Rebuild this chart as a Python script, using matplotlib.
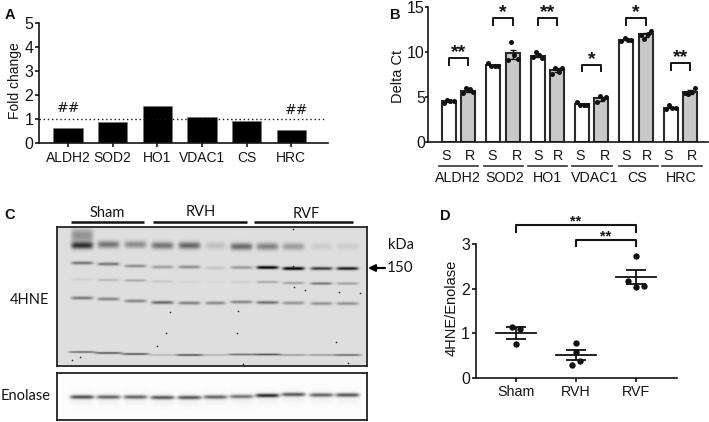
import numpy as np
import matplotlib
matplotlib.use("Agg")
import matplotlib.pyplot as plt

plt.rcParams['font.family'] = ['Liberation Sans', 'DejaVu Sans']

W, H = 709, 422
INK = "#141414"

# panel A
genes = ["ALDH2", "SOD2", "HO1", "VDAC1", "CS", "HRC"]
fold_change = [0.62, 0.87, 1.53, 1.10, 0.90, 0.56]

# panel B
delta_s = [4.54, 8.52, 9.56, 4.17, 11.35, 3.80]
delta_r = [5.70, 9.86, 8.00, 4.84, 11.98, 5.50]
err_s = [0.10, 0.08, 0.12, 0.08, 0.08, 0.10]
err_r = [0.15, 0.50, 0.20, 0.20, 0.25, 0.18]
points_s = [[4.35, 4.70, 4.50, 4.55], [8.80, 8.45, 8.40, 8.45], [9.50, 10.0, 9.65, 9.35],
            [4.40, 4.10, 4.05, 4.15], [11.25, 11.55, 11.30, 11.40], [3.65, 4.05, 3.80, 3.80]]
points_r = [[5.45, 5.95, 5.85, 5.55], [9.10, 11.10, 9.70, 9.20], [7.60, 8.25, 7.80, 8.25],
            [4.40, 5.05, 4.75, 4.95], [11.90, 11.45, 12.00, 12.40], [5.40, 5.35, 5.50, 5.95]]
sig_b = ["**", "*", "**", "*", "*", "**"]
sig_b_level = [9.3, 13.77, 13.77, 8.56, 13.77, 8.75]

# panel D
groups = ["Sham", "RVH", "RVF"]
ratio_points = [[1.14, 1.10, 0.75], [0.77, 0.58, 0.38, 0.29], [2.74, 2.18, 2.05, 2.06]]
ratio_offset = [[-0.07, 0.07, 0.0], [0.0, 0.0, 0.06, -0.07], [0.0, -0.13, 0.0, 0.13]]
ratio_mean = [1.00, 0.51, 2.26]
ratio_sem = [0.13, 0.11, 0.16]

# panel C, band darkness per lane
lanes = [81.7, 108, 135, 162, 189, 215, 241, 267, 293, 321, 347]
lane_width = [11, 11, 11, 11, 11, 10, 11, 11, 11, 11, 11]
band_top_y = [245, 244, 244, 245, 245, 245, 246, 246, 246, 246, 246]
band_top = [.85, .55, .42, .55, .62, .16, .60, .48, .34, .09, .09]
band_150_y = [262.5, 263.5, 265.5, 266.5, 266.5, 267.5, 267, 267, 268, 268, 268]
band_150 = [.46, .46, .36, .28, .36, .12, .30, .98, 1.0, .72, .85]
band_3_y = [279, 279.5, 280, 281, 281.5, 281.5, 281.5, 281.5, 282.5, 283, 283]
band_3 = [.08, .20, .28, .12, .06, .03, .08, .28, .32, .55, .32]
band_4_y = [297.5, 298.5, 300.5, 302, 302.5, 302.5, 301.5, 302, 302.5, 303, 303]
band_4 = [.48, .42, .42, .55, .45, .40, .42, .52, .35, .35, .35]
band_5_y = [351.5, 352.5, 353.5, 354.5, 354.5, 354.5, 354, 354, 354.5, 354.5, 354.5]
band_5 = [.50, .62, .62, .18, .62, .20, .50, .62, .30, .30, .52]
enolase_y = [396.5, 396.5, 396.5, 397, 397, 396.5, 396, 395, 394, 394.5, 394.5]
enolase = [.72, .62, .62, .68, .68, .62, .55, .88, .68, .62, .68]
specks_x = [72, 170, 166, 237, 293, 294, 305, 339, 336, 360, 293, 238, 157, 348, 243, 80]
specks_y = [360, 312, 333, 333, 229, 287, 290, 292, 342, 293, 266, 311, 346, 363, 364, 357]


def px_axes(fig, left, top, right, bottom):
    return fig.add_axes([left / W, 1 - bottom / H, (right - left) / W, (bottom - top) / H])


def style(ax, size):
    for s in ["top", "right"]:
        ax.spines[s].set_visible(False)
    for s in ["left", "bottom"]:
        ax.spines[s].set_linewidth(1.2)
        ax.spines[s].set_color(INK)
    ax.tick_params(width=1.2, length=3.2, labelsize=size, color=INK, labelcolor=INK, pad=3)


def add_band(img, top, left, cx, half, cy, sig, amp):
    rows, cols = img.shape
    yy, xx = np.mgrid[0:rows, 0:cols]
    xx = xx + left
    yy = yy + top
    across = np.exp(-((xx - cx) / half) ** 6)
    img -= amp * across * np.exp(-((yy - cy) / sig) ** 2)


fig = plt.figure(figsize=(W / 100, H / 100), dpi=100)

# A
ax = px_axes(fig, 39, 22.7, 328, 143)
ax.bar(range(6), fold_change, width=0.656, color="black", edgecolor="#777777", linewidth=0.5)
ax.plot([-0.65, 5.78], [1, 1], color=INK, lw=1.0, ls=(0, (1, 2)))
ax.set_xlim(-0.65, 5.82)
ax.set_ylim(0, 5)
ax.set_xticks(range(6), genes)
ax.set_yticks(range(6))
style(ax, 10)
ax.tick_params(axis="y", labelsize=11.5, pad=1)
ax.tick_params(axis="x", length=3)

# B
ax = px_axes(fig, 428.3, 7.3, 708, 141.7)
x = np.arange(6)
off = 0.22
ax.bar(x - off, delta_s, width=0.315, color="white", edgecolor="#2a2a2a", linewidth=1.5)
ax.bar(x + off, delta_r, width=0.315, color="#c9c9c9", edgecolor="#2a2a2a", linewidth=1.5)
jitter = np.array([-0.11, -0.04, 0.04, 0.11])
for i in range(6):
    for pos, vals, errs in [(i - off, points_s[i], err_s[i]), (i + off, points_r[i], err_r[i])]:
        ax.scatter(pos + jitter, vals, s=13, color="#111111", zorder=3, linewidths=0)
        m = np.mean(vals)
        ax.errorbar(pos, m, yerr=errs, color="#111111", lw=1.0, capsize=2.5, capthick=1.0, zorder=4)
    lvl = sig_b_level[i]
    ax.plot([i - off, i - off, i + off, i + off], [lvl - 0.7, lvl, lvl, lvl - 0.7],
            color=INK, lw=1.4, clip_on=False)
    ax.text(i, lvl - 0.35, sig_b[i], ha="center", va="bottom", fontsize=14, fontweight="bold", color=INK)
ax.set_xlim(-0.68, 5.62)
ax.set_ylim(0, 15)
ax.set_xticks(x - off)
ax.set_xticklabels([])
ax.set_yticks([0, 5, 10, 15])
style(ax, 11.5)
ax.tick_params(axis="x", bottom=False)
ax.tick_params(axis="y", pad=0.5, length=2)

# C blots
left, top, right, bottom = 58, 228, 366, 365
blot = np.full((bottom - top, right - left), 0.87)
for i, c in enumerate(lanes):
    hw = lane_width[i]
    add_band(blot, top, left, c, hw, band_top_y[i], 3.6, band_top[i] * 0.75)
    add_band(blot, top, left, c, hw, band_150_y[i], 1.7, band_150[i] * 0.85)
    add_band(blot, top, left, c, hw, band_3_y[i], 1.4, band_3[i] * 0.7)
    add_band(blot, top, left, c, hw, band_4_y[i], 1.7, band_4[i] * 0.8)
    add_band(blot, top, left, c, hw + 2.5, band_5_y[i], 1.1, band_5[i] * 0.8)
add_band(blot, top, left, lanes[0], 11, 235, 7.0, 0.30)
ax = px_axes(fig, 57, 227, 367, 366)
ax.imshow(np.clip(blot, 0, 1), cmap="gray", vmin=0, vmax=1, aspect="auto", interpolation="bilinear",
          extent=(left, right, bottom, top))
ax.scatter(specks_x, specks_y, s=1.5, color="#333333", linewidths=0)
ax.set_xlim(57, 367)
ax.set_ylim(366, 227)
ax.set_xticks([])
ax.set_yticks([])
for s in ax.spines.values():
    s.set_linewidth(1.3)
    s.set_color("#222222")

left, top, right, bottom = 58, 374, 366, 419
eno = np.full((bottom - top, right - left), 0.99)
for i, c in enumerate(lanes):
    add_band(eno, top, left, c, 12, enolase_y[i] + 2, 7.0, 0.05)
    add_band(eno, top, left, c, 12, enolase_y[i], 2.0, enolase[i] * 0.85)
ax = px_axes(fig, 57, 373, 367, 420)
ax.imshow(np.clip(eno, 0, 1), cmap="gray", vmin=0, vmax=1, aspect="auto", interpolation="bilinear",
          extent=(left, right, bottom, top))
ax.set_xlim(57, 367)
ax.set_ylim(420, 373)
ax.set_xticks([])
ax.set_yticks([])
for s in ax.spines.values():
    s.set_linewidth(1.3)
    s.set_color("#222222")

# D
ax = px_axes(fig, 475.7, 244.3, 676.7, 377.7)
for i in range(3):
    ax.scatter(i + np.array(ratio_offset[i]), ratio_points[i], s=21, color="#111111", zorder=3, linewidths=0)
    ax.plot([i - 0.33, i + 0.33], [ratio_mean[i], ratio_mean[i]], color="#111111", lw=1.3)
    ax.errorbar(i, ratio_mean[i], yerr=ratio_sem[i], color="#111111", lw=1.3, capsize=7, capthick=1.3)
for a, b, lvl, drop in [(0, 2, 3.43, 0.16), (1, 2, 3.10, 0.14)]:
    ax.plot([a, a, b, b], [lvl - drop, lvl, lvl, lvl - drop], color=INK, lw=1.5, clip_on=False)
    ax.text((a + b) / 2, lvl - 0.08, "**", ha="center", va="bottom", fontsize=10.5,
            fontweight="bold", color=INK)
ax.set_xlim(-0.672, 2.678)
ax.set_ylim(0, 3)
ax.set_xticks(range(3), groups)
ax.set_yticks(range(4))
style(ax, 10.3)
ax.tick_params(axis="y", labelsize=11.5, pad=1)
ax.tick_params(axis="x", pad=2)

# text and rules placed in figure pixels
ov = fig.add_axes([0, 0, 1, 1])
ov.set_xlim(0, W)
ov.set_ylim(H, 0)
ov.axis("off")
ov.patch.set_alpha(0)

for label, px, py in [("A", 10, 15), ("B", 395.5, 15), ("C", 10, 215), ("D", 445, 216)]:
    ov.text(px, py, label, fontsize=10.5, fontweight="bold", ha="center", va="center", color="#111111")

ov.text(15, 81, "Fold change", rotation=90, fontsize=10, ha="center", va="center", color=INK)
ov.text(398.5, 76.5, "Delta Ct", rotation=90, fontsize=10.5, ha="center", va="center", color=INK)
ov.text(452, 308, "4HNE/Enolase", rotation=90, fontsize=10.5, ha="center", va="center", color=INK)

ov.text(68.5, 108.5, "##", fontsize=10, ha="center", va="center", color=INK, fontfamily="DejaVu Sans")
ov.text(297, 110.5, "##", fontsize=10, ha="center", va="center", color=INK, fontfamily="DejaVu Sans")

# S / R row under panel B
s_x = [445.7, 491.7, 538.3, 580, 626, 668.3]
r_x = [470.3, 516.7, 558.3, 605, 646.7, 691.7]
rule_l = [438.7, 484.3, 528, 572.3, 619.3, 662.3]
rule_r = [477.7, 523.3, 567.3, 611.7, 657.7, 701.7]
name_x = [457.5, 505, 547.5, 594.5, 637, 681]
for i in range(6):
    ov.text(s_x[i], 155.5, "S", fontsize=10.3, ha="center", va="center", color=INK)
    ov.text(r_x[i], 155.5, "R", fontsize=10.3, ha="center", va="center", color=INK)
    ov.plot([rule_l[i], rule_r[i]], [165.7, 165.7], color="#333333", lw=1.2)
    ov.text(name_x[i], 177.5, genes[i], fontsize=10.3, ha="center", va="center", color=INK)

blot_font = ['Lato', 'DejaVu Sans']
for label, a, b, tx, ty in [("Sham", 70.7, 144.3, 107.7, 213), ("RVH", 152.7, 246.7, 201, 212),
                            ("RVF", 254, 353, 306.7, 213.5)]:
    ov.plot([a, b], [222.3, 222.3], color="#111111", lw=1.8, solid_capstyle="butt")
    ov.text(tx, ty, label, fontsize=10.5, ha="center", va="center", color=INK, fontfamily=blot_font)
ov.text(401, 245, "kDa", fontsize=10.5, ha="center", va="center", color=INK, fontfamily=blot_font)
ov.text(400, 267.5, "150", fontsize=11, ha="center", va="center", color=INK, fontfamily=blot_font)
ov.text(30, 300, "4HNE", fontsize=10.5, ha="center", va="center", color=INK, fontfamily=blot_font)
ov.text(25.5, 396.5, "Enolase", fontsize=10.5, ha="center", va="center", color=INK, fontfamily=blot_font)
ov.annotate("", xy=(368, 268), xytext=(385, 268),
            arrowprops=dict(arrowstyle="-|>", color="black", lw=1.6, mutation_scale=10, shrinkA=0, shrinkB=0))

fig.savefig("out.png", dpi=100)
